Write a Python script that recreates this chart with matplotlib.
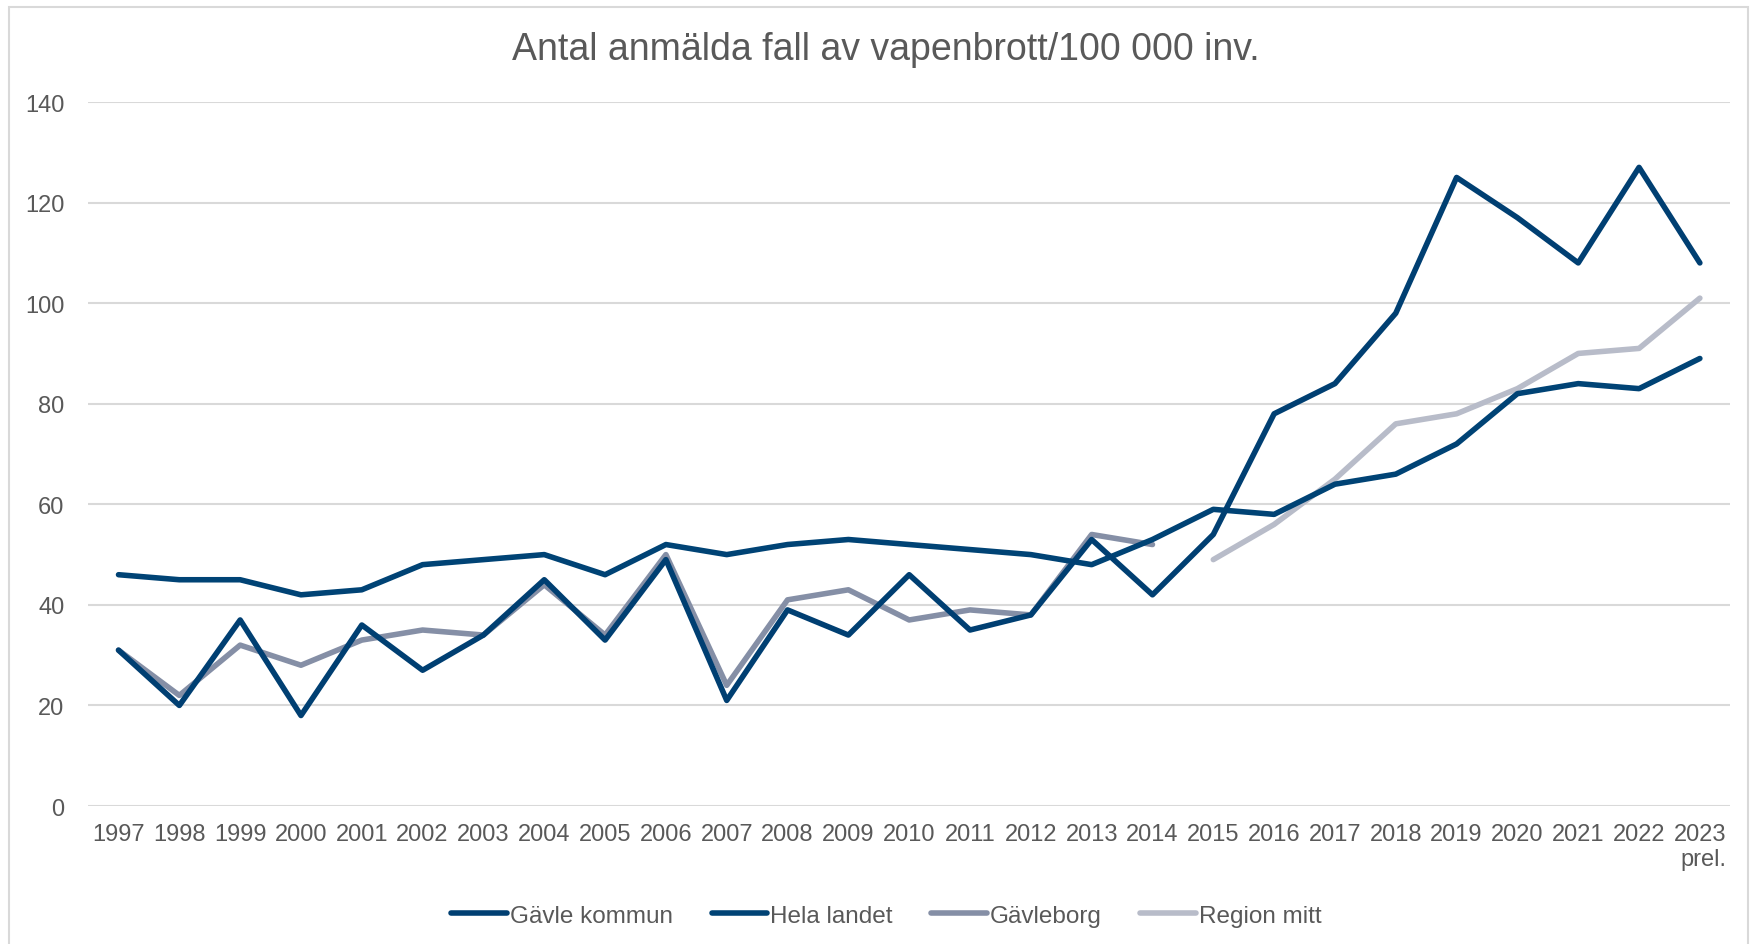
import matplotlib.pyplot as plt
from matplotlib.patches import Rectangle
import numpy as np

plt.rcParams['font.family'] = ['Liberation Sans', 'DejaVu Sans']

# Data
years = ['1997', '1998', '1999', '2000', '2001', '2002', '2003', '2004', '2005',
         '2006', '2007', '2008', '2009', '2010', '2011', '2012', '2013', '2014',
         '2015', '2016', '2017', '2018', '2019', '2020', '2021', '2022', '2023\nprel.']

gavle_kommun = [31, 20, 37, 18, 36, 27, 34, 45, 33, 49, 21, 39, 34, 46, 35, 38, 53, 42,
                54, 78, 84, 98, 125, 117, 108, 127, 108]
hela_landet = [46, 45, 45, 42, 43, 48, 49, 50, 46, 52, 50, 52, 53, 52, 51, 50, 48, 53,
               59, 58, 64, 66, 72, 82, 84, 83, 89]
# Gävleborg 1997-2014, Region mitt 2015-2023
gavleborg = [31, 22, 32, 28, 33, 35, 34, 44, 34, 50, 24, 41, 43, 37, 39, 38, 54, 52]
region_mitt = [49, 56, 65, 76, 78, 83, 90, 91, 101]

x = np.arange(len(years))

fig = plt.figure(figsize=(17.62, 9.45), dpi=100)
ax = fig.add_axes([0.05, 0.146, 0.932, 0.745])

lw = 4.0
ax.plot(x, gavle_kommun, color='#003F72', lw=lw, label='Gävle kommun',
        solid_capstyle='round', zorder=4)
ax.plot(x, hela_landet, color='#004375', lw=lw, label='Hela landet',
        solid_capstyle='round', zorder=3)
ax.plot(x[:len(gavleborg)], gavleborg, color='#858FA6', lw=lw, label='Gävleborg',
        solid_capstyle='round', zorder=2)
ax.plot(x[len(years) - len(region_mitt):], region_mitt, color='#B8BCC9', lw=lw,
        label='Region mitt', solid_capstyle='round', zorder=2)

ax.set_xlim(-0.5, len(years) - 0.5)
ax.set_ylim(0, 140)
ax.set_yticks(np.arange(0, 141, 20))
ax.set_xticks(x)
ax.set_xticklabels(years, multialignment='right')
ax.tick_params(axis='both', length=0, labelsize=17, colors='#595959')
ax.tick_params(axis='y', pad=17)
ax.tick_params(axis='x', pad=12)

ax.grid(axis='y', color='#D9D9D9', lw=1.5)
ax.set_axisbelow(True)
for s in ax.spines.values():
    s.set_visible(False)

fig.text(0.5025, 0.947, 'Antal anmälda fall av vapenbrott/100 000 inv.', ha='center',
         va='center', fontsize=27, color='#595959')

fig.legend(loc='center', bbox_to_anchor=(0.503, 0.03), ncol=4, frameon=False,
           fontsize=17.5, handlelength=2.3, handletextpad=0.1, columnspacing=1.6,
           labelcolor='#595959')

# thin grey chart frame
fig.patches.append(Rectangle((0.005, -0.01), 0.987, 1.002, transform=fig.transFigure,
                             fill=False, edgecolor='#D9D9D9', lw=1.5))

fig.savefig('out.png', dpi=100)
